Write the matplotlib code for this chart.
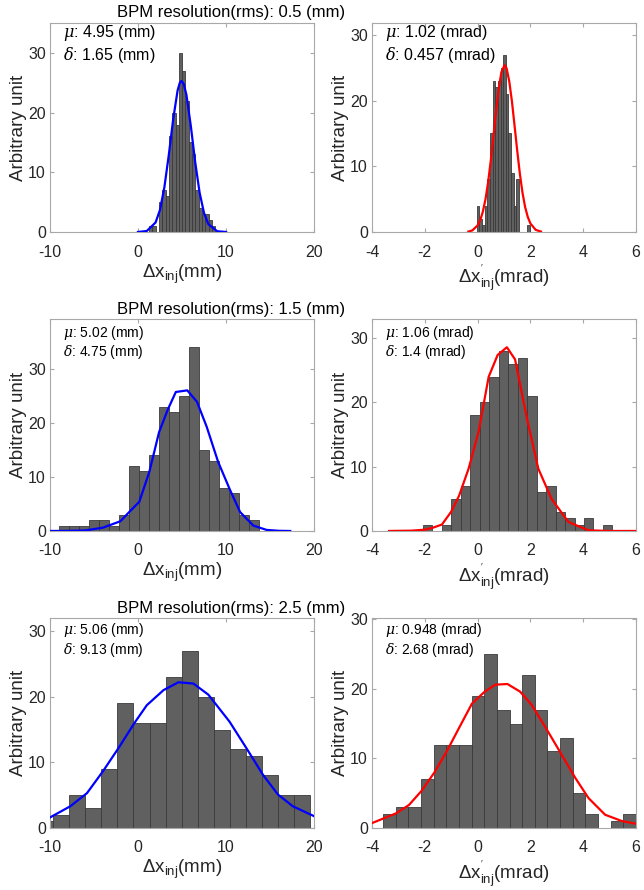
import numpy as np
import matplotlib
matplotlib.use("Agg")
import matplotlib.pyplot as plt

plt.rcParams['font.family'] = ['Liberation Sans', 'DejaVu Sans']
plt.rcParams['mathtext.fontset'] = 'custom'
plt.rcParams['mathtext.rm'] = 'Liberation Sans'
plt.rcParams['mathtext.sf'] = 'Liberation Sans'
plt.rcParams['mathtext.it'] = 'DejaVu Serif:italic'
plt.rcParams['mathtext.bf'] = 'Liberation Sans:bold'
plt.rcParams['axes.unicode_minus'] = False

# --- Datos ---
res_levels = ["0.5", "1.5", "2.5"]

# fila 1: resolucion 0.5 mm
x1_start, x1_width = 1.25, 0.377
x1_counts = [1, 1, 0, 5, 7, 6, 16, 20, 18, 30, 27, 22, 15, 13, 7, 4, 3, 3, 2, 1]
x1_fit_x = [0, 1, 2, 2.5, 3, 3.5, 4, 4.5, 4.75, 4.95, 5.2, 5.5, 6, 6.5, 7, 7.5, 8, 9, 10]
x1_fit_y = [0.01, 0.17, 1.6, 3.7, 7.5, 12.9, 18.9, 23.7, 25.0, 25.3, 24.8, 23.0, 17.8,
            11.7, 6.6, 3.2, 1.3, 0.13, 0.01]
xp1_start, xp1_width = -0.03, 0.1
xp1_counts = [4, 2, 1, 4, 8, 15, 23, 22, 23, 25, 27, 21, 15, 9, 4, 8, 0, 0, 0, 1]
xp1_fit_x = [-0.35, -0.2, 0, 0.1, 0.2, 0.3, 0.4, 0.5, 0.6, 0.7, 0.8, 0.9, 1.02, 1.1,
             1.2, 1.3, 1.4, 1.5, 1.6, 1.7, 1.8, 1.9, 2.0, 2.2, 2.4]
xp1_fit_y = [0.07, 0.24, 1.0, 1.8, 3.1, 5.0, 7.6, 10.9, 14.6, 18.4, 21.8, 24.3, 25.4, 24.9,
             22.9, 19.9, 16.2, 12.4, 8.9, 6.0, 3.8, 2.3, 1.3, 0.33, 0.07]

# fila 2: resolucion 1.5 mm
x2_start, x2_width = -8.93, 1.135
x2_counts = [1, 1, 1, 2, 2, 1, 3, 12, 11, 14, 23, 22, 25, 34, 15, 13, 8, 7, 3, 2]
x2_fit_x = [-10, -8, -6, -4, -2, -1, 0.15, 1.3, 2.4, 3.4, 4.3, 5.6, 6.7, 7.8, 9.1,
            10.4, 11.6, 13.1, 14.6, 16, 17.3]
x2_fit_y = [0.0, 0.02, 0.1, 0.6, 1.8, 3.5, 5.4, 11, 18.3, 22.5, 25.7, 26.0, 23.9, 19.3,
            12.8, 7.8, 3.5, 1.0, 0.2, 0.03, 0.0]
xp2_start, xp2_width = -2.08, 0.3594
xp2_counts = [1, 0, 1, 5, 7, 18, 20, 24, 28, 26, 27, 21, 6, 7, 3, 2, 1, 2, 0, 1]
xp2_fit_x = [-3.35, -2.5, -2.0, -1.7, -1.35, -1.0, -0.7, -0.34, 0.04, 0.42, 0.76, 1.11,
             1.42, 1.87, 2.3, 2.8, 3.44, 4.2, 5.0, 6.0]
xp2_fit_y = [0.0, 0.05, 0.2, 0.5, 1.0, 3.0, 5.5, 9.7, 15.5, 24.0, 27.4, 28.6, 26.7, 17.5,
             9.7, 5.0, 1.4, 0.1, 0.0, 0.0]

# fila 3: resolucion 2.5 mm
x3_start, x3_width = -11.43, 1.82
x3_counts = [1, 2, 5, 3, 9, 19, 16, 16, 23, 27, 20, 15, 12, 11, 8, 5, 5]
x3_fit_x = [-10, -7.7, -5.8, -4, -2.2, -0.4, 1.0, 2.9, 4.6, 6.3, 8.0, 10.4, 12.3, 14.2,
            15.9, 17.6, 20]
x3_fit_y = [1.6, 3.3, 5.3, 8.6, 12.2, 16, 18.7, 21, 22.2, 22, 20.3, 16.2, 12.2, 8.1,
            5.1, 3.3, 1.8]
xp3_start, xp3_width = -3.58, 0.479
xp3_counts = [2, 3, 3, 7, 12, 12, 12, 19, 25, 17, 15, 22, 17, 11, 13, 5, 2, 0, 1, 2]
xp3_fit_x = [-4, -3.09, -2.6, -2.13, -1.65, -1.17, -0.7, -0.21, 0.27, 0.67, 1.13, 1.61,
             2.05, 2.66, 3.19, 3.7, 4.2, 4.83, 5.46, 6]
xp3_fit_y = [0.7, 2.1, 3.3, 5.3, 7.9, 11, 14.4, 17.9, 19.6, 20.6, 20.7, 19.6, 17.7, 13.9,
             10.5, 7.2, 4.3, 1.9, 1.0, 0.6]

stats_x = [("4.95", "1.65"), ("5.02", "4.75"), ("5.06", "9.13")]
stats_xp = [("1.02", "0.457"), ("1.06", "1.4"), ("0.948", "2.68")]

BAR_FACE = "#606060"
BAR_EDGE = "#3a3a3a"
BOX = "#a8a8a8"
TXT = "#262626"

fig = plt.figure(figsize=(6.44, 8.9), dpi=100)

rows = [
    (x1_start, x1_width, x1_counts, x1_fit_x, x1_fit_y,
     xp1_start, xp1_width, xp1_counts, xp1_fit_x, xp1_fit_y, 35, 31.8),
    (x2_start, x2_width, x2_counts, x2_fit_x, x2_fit_y,
     xp2_start, xp2_width, xp2_counts, xp2_fit_x, xp2_fit_y, 39.2, 33),
    (x3_start, x3_width, x3_counts, x3_fit_x, x3_fit_y,
     xp3_start, xp3_width, xp3_counts, xp3_fit_x, xp3_fit_y, 32, 30.2),
]
row_bottoms = [0.7393, 0.4034, 0.0697]
row_heights = [0.2348, 0.2382, 0.2360]
title_y = [0.9857, 0.6528, 0.3165]
ann_size = [11.5, 10, 10]
ann_y = [(0.952, 0.847), (0.934, 0.844), (0.943, 0.848)]


def panel(ax, start, width, counts, fx, fy, color, xlim, xticks, ytop,
          xlabel, mu, sd, unit, fs, ay):
    lefts = start + width * np.arange(len(counts))
    ax.bar(lefts, counts, width=width, align="edge", color=BAR_FACE,
           edgecolor=BAR_EDGE, linewidth=0.6, zorder=2)
    ax.plot(fx, fy, color=color, linewidth=1.6, zorder=3)
    ax.set_xlim(*xlim)
    ax.set_ylim(0, ytop)
    ax.set_xticks(xticks)
    ax.set_yticks([0, 10, 20, 30])
    for s in ax.spines.values():
        s.set_color(BOX)
        s.set_linewidth(0.8)
    ax.tick_params(direction="in", length=3, color=BOX, labelcolor=TXT,
                   labelsize=11.5, top=True, right=True)
    ax.tick_params(axis="x", pad=9)
    ax.tick_params(axis="y", pad=3)
    ax.set_ylabel("Arbitrary unit", fontsize=13.5, color=TXT, labelpad=1)
    ax.set_xlabel(xlabel, fontsize=13.5, color=TXT, labelpad=2)
    ax.text(0.05, ay[0], r"$\mu$: %s (%s)" % (mu, unit), transform=ax.transAxes,
            fontsize=fs, color="black", va="center", ha="left")
    ax.text(0.05, ay[1], r"$\delta$: %s (%s)" % (sd, unit), transform=ax.transAxes,
            fontsize=fs, color="black", va="center", ha="left")


for i, r in enumerate(rows):
    (xs, xw, xc, xfx, xfy, ps, pw, pc, pfx, pfy, ytop_l, ytop_r) = r
    axl = fig.add_axes([0.0776, row_bottoms[i], 0.41, row_heights[i]])
    axr = fig.add_axes([0.5776, row_bottoms[i], 0.41, row_heights[i]])
    panel(axl, xs, xw, xc, xfx, xfy, "#0000ff", (-10, 20), [-10, 0, 10, 20], ytop_l,
          r"$\Delta$x$_{\mathrm{inj}}$(mm)", stats_x[i][0], stats_x[i][1], "mm",
          ann_size[i], ann_y[i])
    panel(axr, ps, pw, pc, pfx, pfy, "#ff0000", (-4, 6), [-4, -2, 0, 2, 4, 6], ytop_r,
          r"$\Delta$x$^{'}_{\mathrm{inj}}$(mrad)", stats_xp[i][0], stats_xp[i][1], "mrad",
          ann_size[i], ann_y[i])
    fig.text(0.359, title_y[i], "BPM resolution(rms): %s (mm)" % res_levels[i],
             ha="center", va="center", fontsize=12, color="black")

fig.savefig("out.png", dpi=100)
